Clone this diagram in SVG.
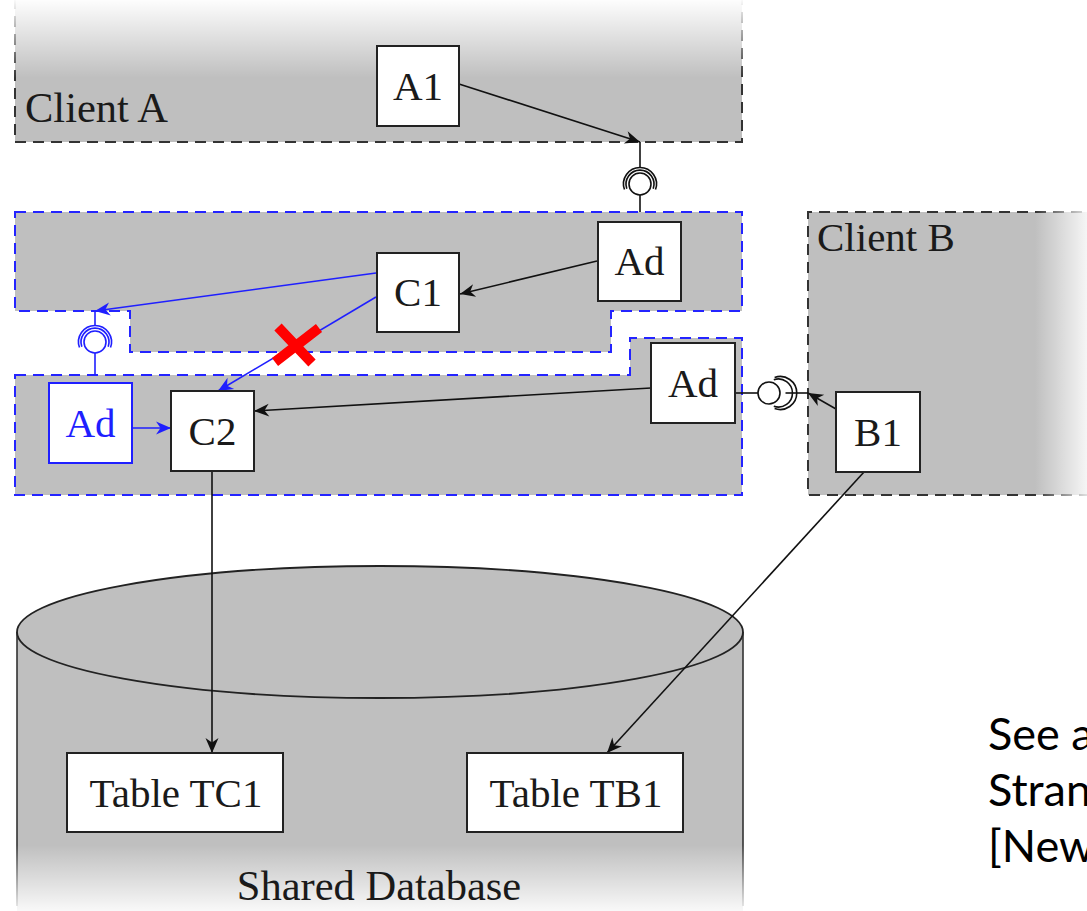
<svg xmlns="http://www.w3.org/2000/svg" width="1087" height="911" viewBox="0 0 1087 911">
  <style>
    .lbl { font-family: "Liberation Serif", "Times New Roman", serif; font-size: 41px; fill: #1a1a1a; }
    .zone-lbl { font-size: 42.5px; }
    .mid { text-anchor: middle; }
    .box { fill: #ffffff; stroke: #222222; stroke-width: 2; }
    .box-blue { fill: #ffffff; stroke: #1f1fff; stroke-width: 2; }
    .zone { fill: #bfbfbf; }
    .dash-k { fill: none; stroke: #333333; stroke-width: 2; stroke-dasharray: 11 7; }
    .dash-b { fill: none; stroke: #2424ff; stroke-width: 2; stroke-dasharray: 11 7; }
    .edge { fill: none; stroke: #111111; stroke-width: 1.6; }
    .edge-blue { fill: none; stroke: #1f1fff; stroke-width: 1.6; }
    .note { font-family: "Lato", "Liberation Sans", sans-serif; font-size: 45px; fill: #000000; }
  </style>
  <defs>
    <marker id="arr" markerUnits="userSpaceOnUse" markerWidth="18" markerHeight="16" refX="0" refY="0" viewBox="-16 -8 18 16" orient="auto">
      <path d="M0,0 L-15,-6.5 L-10.5,0 L-15,6.5 Z" fill="#111111"/>
    </marker>
    <marker id="arrBlue" markerUnits="userSpaceOnUse" markerWidth="18" markerHeight="16" refX="0" refY="0" viewBox="-16 -8 18 16" orient="auto">
      <path d="M0,0 L-15,-6.5 L-10.5,0 L-15,6.5 Z" fill="#1f1fff"/>
    </marker>
    <linearGradient id="fadeTop" x1="0" y1="0" x2="0" y2="1">
      <stop offset="0" stop-color="#ffffff" stop-opacity="1"/>
      <stop offset="1" stop-color="#ffffff" stop-opacity="0"/>
    </linearGradient>
    <linearGradient id="fadeRight" x1="0" y1="0" x2="1" y2="0">
      <stop offset="0" stop-color="#ffffff" stop-opacity="0"/>
      <stop offset="1" stop-color="#ffffff" stop-opacity="0.85"/>
    </linearGradient>
    <linearGradient id="fadeBottom" x1="0" y1="0" x2="0" y2="1">
      <stop offset="0" stop-color="#ffffff" stop-opacity="0"/>
      <stop offset="1" stop-color="#ffffff" stop-opacity="0.9"/>
    </linearGradient>
  </defs>

  <rect width="1087" height="911" fill="#ffffff"/>

  <!-- Client A zone, fading out towards the top -->
  <g id="client-a">
    <rect class="zone" x="15" y="-2" width="727" height="144"/>
    <path class="dash-k" d="M15,-2 V142 H742 V-2"/>
    <rect x="10" y="-2" width="740" height="80" fill="url(#fadeTop)"/>
    <text class="lbl zone-lbl" x="25" y="122">Client A</text>
  </g>

  <!-- Client B zone, fading out towards the right -->
  <g id="client-b">
    <rect class="zone" x="808" y="212" width="290" height="283"/>
    <path class="dash-k" d="M1100,212 H808 V495 H1100"/>
    <rect x="1035" y="205" width="52" height="296" fill="url(#fadeRight)"/>
    <text class="lbl" x="817" y="251">Client B</text>
  </g>

  <!-- adapter zones -->
  <g id="adapter-zone-upper">
    <path class="zone" d="M15,212 H742 V311 H611 V352 H130 V311 H15 Z"/>
    <path class="dash-b" d="M15,212 H742 V311 H611 V352 H130 V311 H15 Z"/>
  </g>
  <g id="adapter-zone-lower">
    <path class="zone" d="M15,375 H630 V338 H742 V495 H15 Z"/>
    <path class="dash-b" d="M15,375 H630 V338 H742 V495 H15 Z"/>
  </g>

  <!-- shared database cylinder -->
  <g id="shared-database">
    <rect class="zone" x="17" y="632" width="726" height="279"/>
    <path d="M17,632 V906 M743,632 V906" fill="none" stroke="#333333" stroke-width="1.6"/>
    <ellipse cx="380" cy="632" rx="363" ry="66" fill="#bfbfbf" stroke="#222222" stroke-width="1.8"/>
    <rect x="10" y="845" width="740" height="66" fill="url(#fadeBottom)"/>
    <text class="lbl zone-lbl mid" x="379" y="900">Shared Database</text>
  </g>

  <!-- provided/required interfaces (ball and socket) -->
  <g id="iface-a" fill="none" stroke="#111111" stroke-width="1.6">
    <path d="M640,142 V168"/>
    <circle cx="640" cy="184" r="11" fill="#ffffff"/>
    <path d="M626.8,188.8 A14,14 0 1 1 653.2,188.8"/>
    <path d="M624.5,189.6 A16.5,16.5 0 1 1 655.5,189.6"/>
    <path d="M640,195 V212"/>
  </g>
  <g id="iface-c1" fill="none" stroke="#1f1fff" stroke-width="1.6">
    <path d="M95,311 V326"/>
    <circle cx="95" cy="342" r="11" fill="#ffffff"/>
    <path d="M81.8,346.8 A14,14 0 1 1 108.2,346.8"/>
    <path d="M79.5,347.6 A16.5,16.5 0 1 1 110.5,347.6"/>
    <path d="M95,353 V375"/>
  </g>
  <g id="iface-b" fill="none" stroke="#111111" stroke-width="1.6">
    <path d="M735,393 H758"/>
    <circle cx="769" cy="393" r="11" fill="#ffffff"/>
    <path d="M773.8,379.8 A14,14 0 1 1 773.8,406.2"/>
    <path d="M774.6,377.5 A16.5,16.5 0 1 1 774.6,408.5"/>
    <path d="M785.5,393 H808"/>
  </g>

  <!-- connectors -->
  <g id="connectors">
    <path class="edge" d="M459,84 L640,142" marker-end="url(#arr)"/>
    <path class="edge" d="M597,261 L460,294" marker-end="url(#arr)"/>
    <path class="edge-blue" d="M376,273 L95,311" marker-end="url(#arrBlue)"/>
    <path class="edge-blue" d="M376,297 L218,391" marker-end="url(#arrBlue)"/>
    <path class="edge-blue" d="M132,428 L171,428" marker-end="url(#arrBlue)"/>
    <path class="edge" d="M651,388 L254,411" marker-end="url(#arr)"/>
    <path class="edge" d="M212,471 L212,753" marker-end="url(#arr)"/>
    <path class="edge" d="M836,409 L808,393" marker-end="url(#arr)"/>
    <path class="edge" d="M864,472 L607,753" marker-end="url(#arr)"/>
    <!-- forbidden direct call -->
    <path d="M278,327 L312,363 M319,328 L275,362" fill="none" stroke="#ff0000" stroke-width="10"/>
  </g>

  <!-- nodes -->
  <g id="node-a1">
    <rect class="box" x="377" y="46" width="82" height="80"/>
    <text class="lbl mid" x="418" y="100">A1</text>
  </g>
  <g id="node-ad-upper">
    <rect class="box" x="598" y="222" width="83" height="79"/>
    <text class="lbl mid" x="639.5" y="275">Ad</text>
  </g>
  <g id="node-c1">
    <rect class="box" x="377" y="253" width="82" height="79"/>
    <text class="lbl mid" x="418" y="306">C1</text>
  </g>
  <g id="node-ad-lower">
    <rect class="box" x="651" y="343" width="84" height="80"/>
    <text class="lbl mid" x="693" y="397">Ad</text>
  </g>
  <g id="node-ad-blue">
    <rect class="box-blue" x="49" y="383" width="83" height="80"/>
    <text class="lbl mid" x="90.5" y="437" style="fill:#1f1fff">Ad</text>
  </g>
  <g id="node-c2">
    <rect class="box" x="171" y="391" width="83" height="80"/>
    <text class="lbl mid" x="212.5" y="445">C2</text>
  </g>
  <g id="node-b1">
    <rect class="box" x="836" y="392" width="84" height="80"/>
    <text class="lbl mid" x="878" y="446">B1</text>
  </g>
  <g id="node-table-tc1">
    <rect class="box" x="67" y="753" width="216" height="79"/>
    <text class="lbl mid" x="176" y="807">Table TC1</text>
  </g>
  <g id="node-table-tb1">
    <rect class="box" x="467" y="753" width="216" height="79"/>
    <text class="lbl mid" x="576" y="807">Table TB1</text>
  </g>

  <!-- side note -->
  <g id="note">
    <text class="note" x="988" y="750">See a</text>
    <text class="note" x="988" y="806">Stran</text>
    <text class="note" x="988" y="862">[New</text>
  </g>
</svg>
